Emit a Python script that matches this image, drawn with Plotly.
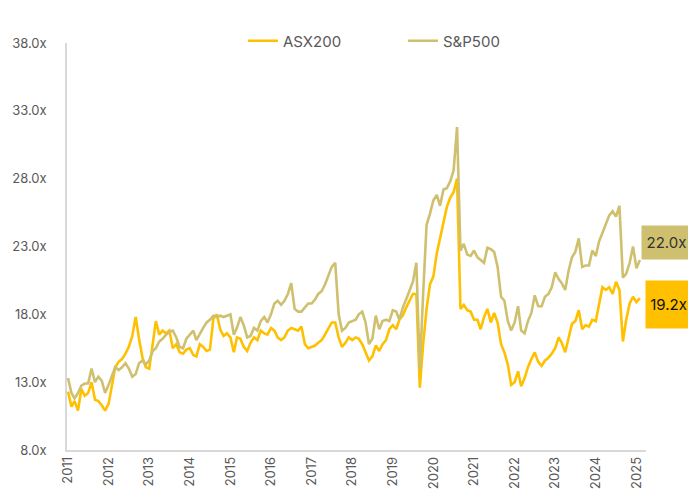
import pandas as pd
import plotly.graph_objects as go

# Monthly observations, Jan 2011 .. Feb 2025
dates = pd.date_range("2011-01-01", periods=170, freq="MS")

asx200 = [
    12.3, 11.2, 11.6, 10.9, 12.5, 12.0, 12.2, 13.0, 11.7, 11.6,
    11.3, 10.9, 11.4, 12.9, 14.1, 14.5, 14.7, 15.1, 15.6, 16.4,
    17.8, 16.2, 14.8, 14.1, 14.0, 15.8, 17.5, 16.5, 16.8, 16.6,
    16.8, 15.5, 15.8, 15.2, 15.1, 15.4, 15.5, 15.0, 14.9, 15.8,
    15.6, 15.3, 15.4, 17.7, 18.0, 16.9, 16.4, 16.6, 16.3, 15.2,
    16.3, 16.2, 15.6, 15.3, 15.9, 16.3, 16.1, 16.8, 16.6, 16.5,
    17.0, 16.8, 16.3, 16.1, 16.3, 16.8, 17.0, 16.9, 16.8, 17.1,
    15.8, 15.5, 15.6, 15.7, 15.9, 16.1, 16.5, 17.0, 17.4, 17.4,
    16.3, 15.6, 15.9, 16.3, 16.1, 16.3, 16.2, 15.8, 15.2, 14.6,
    14.9, 15.7, 15.3, 15.8, 16.1, 16.9, 17.2, 16.9, 17.6, 17.9,
    18.5, 19.0, 19.5, 19.5, 12.6, 15.8, 18.4, 20.2, 20.8, 22.5,
    23.6, 25.0, 25.9, 26.6, 27.0, 28.0, 18.4, 18.7, 18.3, 18.2,
    17.6, 17.6, 16.9, 17.8, 18.4, 17.4, 18.1, 17.4, 15.8, 15.2,
    14.3, 12.8, 13.0, 13.8, 12.7, 13.3, 14.1, 14.7, 15.2, 14.5,
    14.2, 14.6, 14.8, 15.1, 15.5, 16.3, 15.9, 15.2, 16.2, 17.3,
    17.5, 18.3, 16.9, 17.2, 17.1, 17.6, 17.5, 18.8, 20.0, 19.8,
    20.0, 19.5, 20.4, 19.8, 16.0, 17.6, 18.8, 19.3, 18.9, 19.2,
]

sp500 = [
    13.3, 12.2, 11.8, 12.2, 12.75, 12.9, 12.9, 14.0, 13.0, 13.4,
    13.1, 12.2, 12.8, 13.5, 14.1, 13.9, 14.1, 14.4, 14.0, 13.4,
    13.6, 14.4, 14.6, 14.3, 14.6, 15.3, 15.5, 16.0, 16.2, 16.5,
    16.7, 16.8, 16.3, 15.6, 15.5, 16.2, 16.5, 16.8, 16.1, 16.6,
    17.0, 17.4, 17.6, 17.9, 17.8, 17.9, 17.8, 17.9, 18.0, 16.5,
    17.0, 17.8, 17.2, 16.3, 16.4, 17.0, 16.8, 17.5, 17.8, 17.4,
    18.0, 18.8, 19.0, 18.7, 19.0, 19.5, 20.3, 18.4, 18.2, 18.2,
    18.5, 18.8, 18.8, 19.1, 19.5, 19.7, 20.2, 20.8, 21.5, 21.8,
    18.0, 16.8, 17.0, 17.4, 17.5, 17.6, 18.0, 18.2, 17.4, 15.8,
    16.2, 17.9, 16.9, 17.5, 17.6, 17.5, 18.3, 18.2, 17.6, 18.5,
    19.1, 19.7, 20.4, 21.8, 13.9, 19.5, 24.6, 25.4, 26.4, 26.8,
    26.0, 27.2, 27.3, 27.8, 28.6, 31.8, 22.7, 23.2, 22.4, 22.3,
    22.7, 22.2, 22.0, 21.8, 22.9, 22.8, 22.6, 21.5, 19.3, 19.0,
    17.5, 16.8, 17.4, 18.6, 16.8, 16.6, 17.5, 18.1, 19.4, 18.6,
    18.6, 19.3, 19.5, 20.0, 21.1, 20.6, 20.3, 19.8, 21.2, 22.2,
    22.6, 23.6, 21.5, 21.6, 21.6, 22.7, 22.3, 23.4, 24.0, 24.6,
    25.3, 25.6, 25.2, 26.0, 20.7, 21.0, 21.8, 23.0, 21.4, 22.0,
]

year_labels = ["2011", "2012", "2013", "2014", "2015", "2016", "2017", "2018",
               "2019", "2020", "2021", "2022", "2023", "2024", "2025"]
y_ticks = [8, 13, 18, 23, 28, 33, 38]

ASX_COLOR = "#FFC000"
SP_COLOR = "#CFC06F"
FONT = "Inter, Roboto, sans-serif"

fig = go.Figure()
fig.add_trace(go.Scatter(x=dates, y=asx200, name="ASX200", mode="lines",
                         line=dict(color=ASX_COLOR, width=2.6)))
fig.add_trace(go.Scatter(x=dates, y=sp500, name="S&P500", mode="lines",
                         line=dict(color=SP_COLOR, width=2.6)))

# plot area spans 579 px horizontally (x 67..646 on the page)
PW = 579
fig.add_annotation(xref="paper", yref="y", x=(641 - 67) / PW, y=23.3,
                   xanchor="left", yanchor="middle", showarrow=False,
                   text=f"{sp500[-1]:.1f}x", width=49, height=33, borderpad=0,
                   bgcolor=SP_COLOR, font=dict(family=FONT, size=15, color="#333333"))
fig.add_annotation(xref="paper", yref="y", x=(645 - 67) / PW, y=18.72,
                   xanchor="left", yanchor="middle", showarrow=False,
                   text=f"{asx200[-1]:.1f}x", width=45, height=47, borderpad=0,
                   bgcolor=ASX_COLOR, font=dict(family=FONT, size=15, color="#111111"))

fig.update_layout(
    width=688, height=489,
    margin=dict(l=59, r=50, t=35, b=47),
    paper_bgcolor="white", plot_bgcolor="white",
    font=dict(family=FONT, size=13, color="#595959"),
    showlegend=True,
    legend=dict(orientation="h", x=(243 - 67) / PW, xanchor="left", y=1.005, yanchor="middle",
                font=dict(size=15, color="#595959"), bgcolor="rgba(0,0,0,0)",
                entrywidth=115, entrywidthmode="pixels"),
    xaxis=dict(
        type="date", range=["2010-12-23", "2025-03-28"],
        tickvals=[f"{y}-01-01" for y in year_labels], ticktext=year_labels,
        tickangle=-90, showgrid=False, zeroline=False,
        showline=True, linecolor="#d9d9d9", linewidth=1.5,
        ticks="", automargin=False,
        tickfont=dict(size=13, color="#595959"),
    ),
    yaxis=dict(
        range=[8, 38], tickvals=y_ticks,
        ticktext=[f"{v:.1f}x" for v in y_ticks],
        showgrid=False, zeroline=False,
        showline=True, linecolor="#d9d9d9", linewidth=1.5,
        ticks="", ticklabelstandoff=16, automargin=False,
        tickfont=dict(size=13, color="#595959"),
    ),
)

fig.write_html("out.html")
